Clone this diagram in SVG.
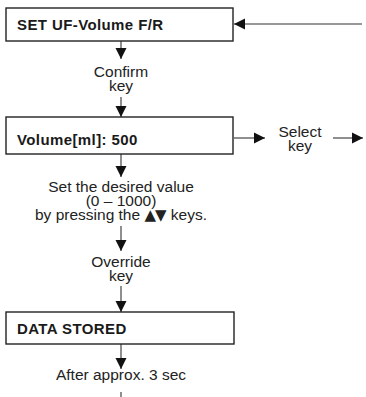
<svg xmlns="http://www.w3.org/2000/svg" width="366" height="397" viewBox="0 0 366 397">
<defs>
<marker id="ah" markerWidth="12" markerHeight="12" refX="11" refY="6" orient="auto" markerUnits="userSpaceOnUse" viewBox="0 0 12 12">
<path d="M0,0.5 L11,6 L0,11.5 Z" fill="#111"/>
</marker>
<style>
.box{fill:#fff;stroke:#222;stroke-width:1.4}
.bt{font-family:"Liberation Sans",Arial,sans-serif;font-weight:bold;font-size:15px;letter-spacing:0.4px;fill:#1a1a1a}
.t{font-family:"Liberation Sans",Arial,sans-serif;font-size:15.5px;fill:#222;text-anchor:middle}
.tri{font-family:"DejaVu Sans",sans-serif;font-size:15px}
.c{stroke:#333;stroke-width:1.1;fill:none}
</style>
</defs>
<rect width="366" height="397" fill="#fff"/>
<g id="connectors">
<line class="c" x1="362" y1="24" x2="234" y2="24" marker-end="url(#ah)"/>
<line class="c" x1="121" y1="41" x2="121" y2="59" marker-end="url(#ah)"/>
<line class="c" x1="121" y1="97" x2="121" y2="117" marker-end="url(#ah)"/>
<line class="c" x1="234" y1="138" x2="265" y2="138" marker-end="url(#ah)"/>
<line class="c" x1="333" y1="138" x2="363" y2="138" marker-end="url(#ah)"/>
<line class="c" x1="121" y1="154" x2="121" y2="177" marker-end="url(#ah)"/>
<line class="c" x1="121" y1="226" x2="121" y2="251" marker-end="url(#ah)"/>
<line class="c" x1="121" y1="286" x2="121" y2="312" marker-end="url(#ah)"/>
<line class="c" x1="121" y1="344" x2="121" y2="369" marker-end="url(#ah)"/>
<line class="c" x1="121" y1="392" x2="121" y2="397"/>
</g>
<g id="node-set-uf">
<rect class="box" x="6" y="8" width="227" height="33"/>
<text class="bt" x="17" y="30">SET UF-Volume F/R</text>
</g>
<g id="label-confirm">
<text class="t" x="121" y="77">Confirm</text>
<text class="t" x="121" y="91">key</text>
</g>
<g id="node-volume">
<rect class="box" x="6" y="117" width="227" height="37"/>
<text class="bt" x="17" y="145">Volume[ml]: 500</text>
</g>
<g id="label-select">
<text class="t" x="300" y="137">Select</text>
<text class="t" x="300" y="151">key</text>
</g>
<g id="label-set-value">
<text class="t" x="121" y="192">Set the desired value</text>
<text class="t" x="121" y="206">(0 – 1000)</text>
<text class="t" x="121" y="220">by pressing the <tspan class="tri">▲<tspan dx="-1">▼</tspan></tspan> keys.</text>
</g>
<g id="label-override">
<text class="t" x="121" y="267">Override</text>
<text class="t" x="121" y="281">key</text>
</g>
<g id="node-data-stored">
<rect class="box" x="6" y="312" width="228" height="32"/>
<text class="bt" x="17" y="334">DATA STORED</text>
</g>
<g id="label-after">
<text class="t" x="121" y="380">After approx. 3 sec</text>
</g>
</svg>
